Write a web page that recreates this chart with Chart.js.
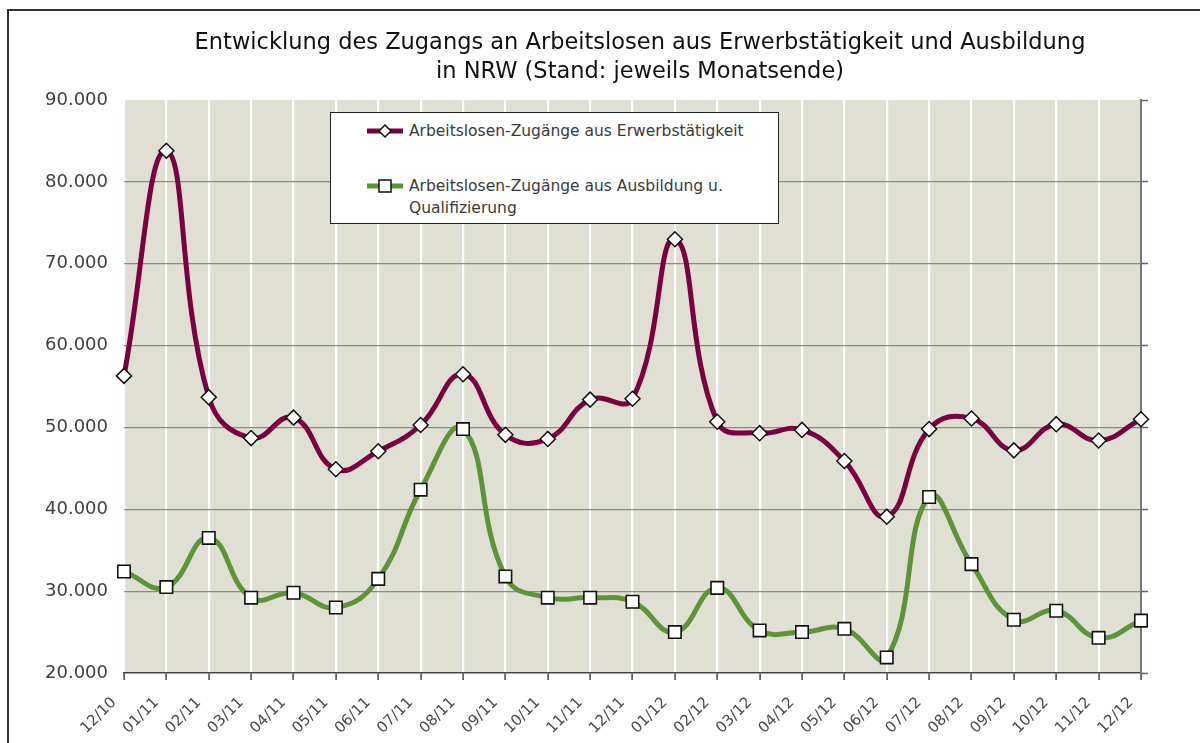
<!DOCTYPE html>
<html><head><meta charset="utf-8">
<script src="https://cdn.jsdelivr.net/npm/chart.js@4.4.0/dist/chart.umd.min.js"></script>
<style>
html,body{margin:0;padding:0;background:#fff;width:1200px;height:743px;overflow:hidden;}
#frame{position:absolute;left:7px;top:9px;width:1300px;height:800px;border-left:2px solid #333;border-top:2px solid #333;}
#wrap{position:absolute;left:0;top:0;width:1280px;height:743px;}
#legend{position:absolute;left:330px;top:112px;width:447px;height:110px;border:1px solid #222;background:#fff;font-family:"DejaVu Sans",sans-serif;font-size:15.5px;color:#3a3a3a;}
.row{position:absolute;left:36px;}
.row svg{position:absolute;left:0;top:0;}
.row span{position:absolute;left:42px;top:0;white-space:nowrap;line-height:22px;}
</style>
</head><body>
<div id="frame"></div>
<div id="wrap"><canvas id="c" width="1280" height="743"></canvas></div>
<div id="legend">
  <div class="row" style="top:7px;">
    <svg width="38" height="22"><line x1="0" y1="11" x2="36" y2="11" stroke="#7A0040" stroke-width="5"/><polygon points="18,5 24,11 18,17 12,11" fill="#fff" stroke="#111" stroke-width="1.5"/></svg>
    <span>Arbeitslosen-Zugänge aus Erwerbstätigkeit</span>
  </div>
  <div class="row" style="top:62px;">
    <svg width="38" height="22"><line x1="0" y1="11" x2="36" y2="11" stroke="#5C9437" stroke-width="5"/><rect x="12" y="5" width="12" height="12" fill="#fff" stroke="#111" stroke-width="1.5"/></svg>
    <span>Arbeitslosen-Zugänge aus Ausbildung u.<br>Qualifizierung</span>
  </div>
</div>
<script>
const labels = ['12/10','01/11','02/11','03/11','04/11','05/11','06/11','07/11','08/11','09/11','10/11','11/11','12/11',
                '01/12','02/12','03/12','04/12','05/12','06/12','07/12','08/12','09/12','10/12','11/12','12/12'];
const erwerbstaetigkeit = [56300,83800,53700,48700,51200,44900,47100,50300,56500,49100,48600,53400,53500,
                           73000,50700,49300,49700,45900,39100,49800,51100,47200,50400,48400,51000];
const ausbildung = [32400,30500,36500,29200,29800,28000,31500,42400,49800,31800,29200,29200,28700,
                    25000,30400,25200,25000,25400,21900,41500,33300,26500,27600,24300,26400];
const seriesNames = ['Arbeitslosen-Zugänge aus Erwerbstätigkeit','Arbeitslosen-Zugänge aus Ausbildung u. Qualifizierung'];
const titleLines = ['Entwicklung des Zugangs an Arbeitslosen aus Erwerbstätigkeit und Ausbildung','in NRW (Stand: jeweils Monatsende)'];
const yMin = 20000, yMax = 90000, yStep = 10000;

function fmt(v){ return String(Math.round(v)).replace(/\B(?=(\d{3})+(?!\d))/g,'.'); }

const bgPlugin = {
  id:'bg',
  beforeDraw(chart){
    const a = chart.chartArea, ctx = chart.ctx;
    ctx.save(); ctx.fillStyle = '#DFE0D3';
    ctx.fillRect(a.left, a.top, a.right-a.left, a.bottom-a.top);
    ctx.restore();
  }
};

const FONT = '"DejaVu Sans", sans-serif';
new Chart(document.getElementById('c'), {
  type:'line',
  data:{
    labels: labels,
    datasets:[
      {label:seriesNames[0], data:erwerbstaetigkeit, borderColor:'#7A0040', borderWidth:5, tension:0.45,
       pointStyle:'rectRot', pointRadius:7.5, pointBackgroundColor:'#fff', pointBorderColor:'#111', pointBorderWidth:1.5, fill:false},
      {label:seriesNames[1], data:ausbildung, borderColor:'#5C9437', borderWidth:5, tension:0.45,
       pointStyle:'rect', pointRadius:8.8, pointBackgroundColor:'#fff', pointBorderColor:'#111', pointBorderWidth:1.6, fill:false}
    ]
  },
  options:{
    responsive:false, animation:false, devicePixelRatio:1,
    layout:{padding:{left:0, right:0, top:11, bottom:0}},
    plugins:{
      legend:{display:false},
      tooltip:{enabled:false},
      title:{display:true, text:titleLines, color:'#111', font:{family:FONT, size:22.5, weight:'normal', lineHeight:1.29},
             padding:{top:18, bottom:13}}
    },
    scales:{
      x:{
        offset:false,
        grid:{color:'#ffffff', lineWidth:2.2, tickColor:'#444', tickWidth:1.5, tickLength:7, drawOnChartArea:true},
        border:{display:true, color:'#444', width:1.5},
        ticks:{minRotation:45, maxRotation:45, autoSkip:false, color:'#4a4a4a', font:{family:FONT, size:15}, padding:14, labelOffset:-10},
        afterFit(s){ s.height = 70; }
      },
      y:{
        min:yMin, max:yMax,
        ticks:{stepSize:yStep, color:'#404040', font:{family:FONT, size:18}, padding:16, callback:(v)=>fmt(v)},
        grid:{drawTicks:false, lineWidth:1.2, color:(c)=> (c.tick && (c.tick.value===yMin || c.tick.value===yMax)) ? 'rgba(0,0,0,0)' : '#8a8a84'},
        border:{display:false},
        afterFit(s){ s.width = 124; }
      },
      y2:{
        position:'right', min:yMin, max:yMax,
        ticks:{stepSize:yStep, display:false},
        grid:{drawOnChartArea:false, tickLength:7, tickColor:'#666', tickWidth:1.5},
        border:{display:true, color:'#777', width:2},
        afterFit(s){ s.width = 139; }
      }
    }
  },
  plugins:[bgPlugin]
});
</script>
</body></html>
